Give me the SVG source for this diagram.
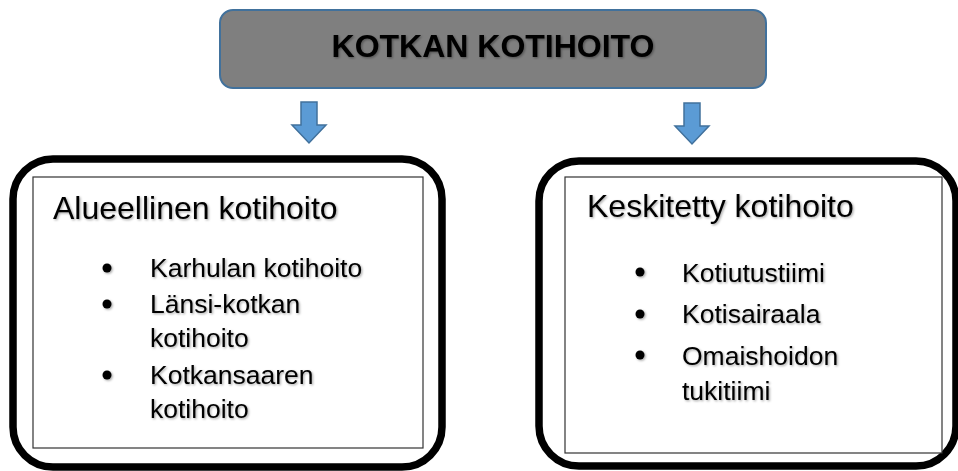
<svg xmlns="http://www.w3.org/2000/svg" width="958" height="471" viewBox="0 0 958 471">
  <style>
    .outer { fill: #ffffff; stroke: #000000; stroke-width: 7.5; }
    .inner { fill: #ffffff; stroke: #333333; stroke-width: 1.2; }
    .head { font-family: "Liberation Sans", Arial, sans-serif; font-size: 32px; fill: #000000; }
    .item { font-family: "Liberation Sans", Arial, sans-serif; font-size: 26.5px; fill: #000000; }
    .title { font-family: "Liberation Sans", Arial, sans-serif; font-size: 32px; font-weight: bold; fill: #000000; }
    .arrow { fill: #5b9bd5; stroke: #41719c; stroke-width: 1.5; }
    .bullet { fill: #000000; }
  </style>
  <defs>
    <filter id="sh" x="-10%" y="-30%" width="120%" height="160%">
      <feDropShadow dx="1.2" dy="1.2" stdDeviation="1" flood-color="#000000" flood-opacity="0.35"/>
    </filter>
    <path id="arr" d="M-8,0 H8 V23 H17 L0,41 L-17,23 H-8 Z"/>
  </defs>

  <g id="node-top">
    <rect x="220" y="10" width="546" height="78" rx="13" ry="13" fill="#7f7f7f" stroke="#41719c" stroke-width="2"/>
    <text class="title" x="493" y="57" text-anchor="middle" filter="url(#sh)">KOTKAN KOTIHOITO</text>
  </g>

  <g id="connectors">
    <use href="#arr" class="arrow" x="309" y="102"/>
    <use href="#arr" class="arrow" x="692" y="103"/>
  </g>

  <g id="node-left">
    <rect class="outer" x="13" y="159" width="429" height="308" rx="40" ry="40"/>
    <rect class="inner" x="33" y="177" width="390" height="271"/>
    <g filter="url(#sh)">
      <text class="head" x="53" y="219">Alueellinen kotihoito</text>
      <circle class="bullet" cx="107" cy="268" r="4.5"/>
      <circle class="bullet" cx="107" cy="304" r="4.5"/>
      <circle class="bullet" cx="107" cy="375" r="4.5"/>
      <text class="item" x="150" y="277">Karhulan kotihoito</text>
      <text class="item" x="150" y="313">Länsi-kotkan</text>
      <text class="item" x="150" y="347">kotihoito</text>
      <text class="item" x="150" y="384">Kotkansaaren</text>
      <text class="item" x="150" y="418">kotihoito</text>
    </g>
  </g>

  <g id="node-right">
    <rect class="outer" x="539" y="161" width="417" height="305" rx="40" ry="40"/>
    <rect class="inner" x="565" y="177" width="377" height="276"/>
    <g filter="url(#sh)">
      <text class="head" x="587" y="217">Keskitetty kotihoito</text>
      <circle class="bullet" cx="640" cy="272" r="4.5"/>
      <circle class="bullet" cx="640" cy="314" r="4.5"/>
      <circle class="bullet" cx="640" cy="355" r="4.5"/>
      <text class="item" x="682" y="282">Kotiutustiimi</text>
      <text class="item" x="682" y="323">Kotisairaala</text>
      <text class="item" x="682" y="365">Omaishoidon</text>
      <text class="item" x="682" y="400">tukitiimi</text>
    </g>
  </g>
</svg>
